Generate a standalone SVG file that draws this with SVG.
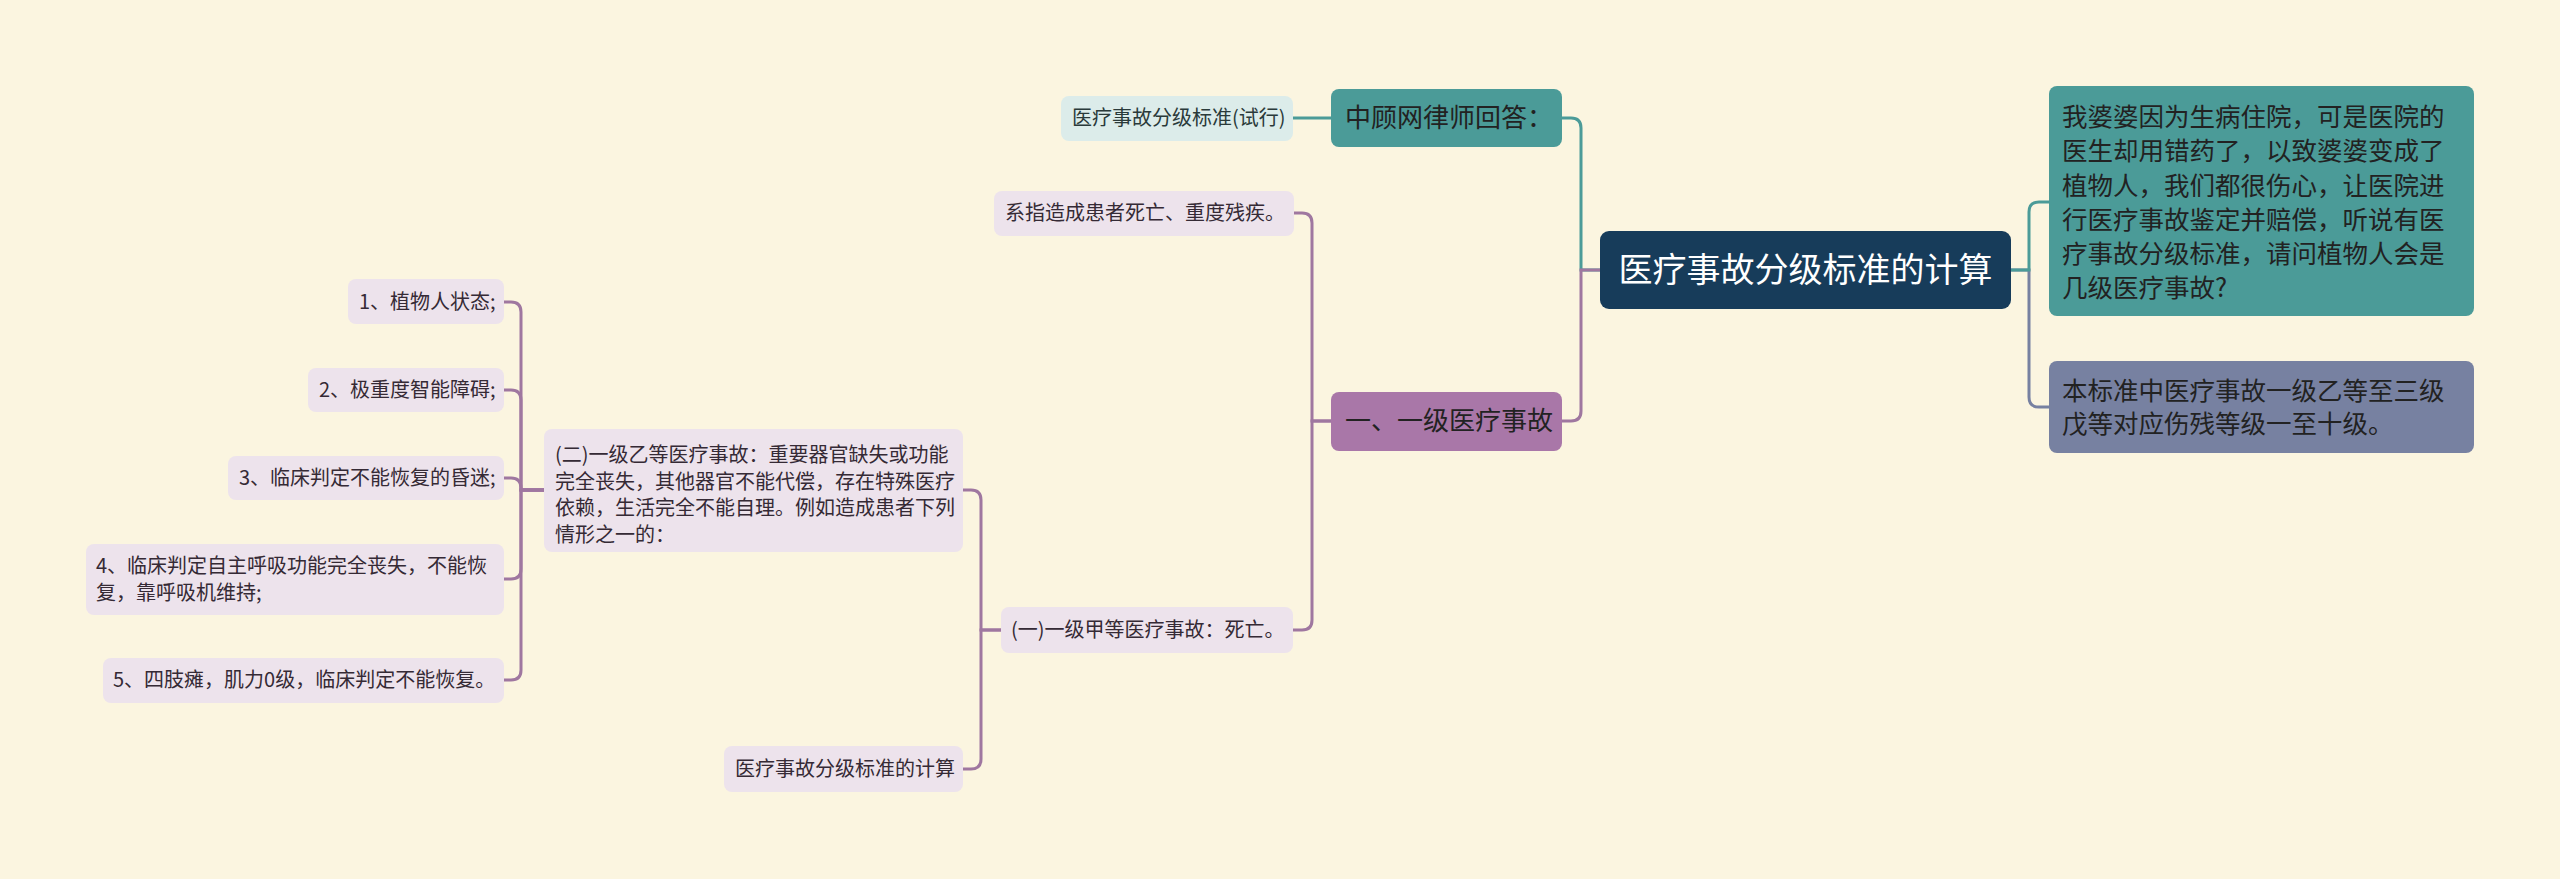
<svg xmlns="http://www.w3.org/2000/svg" width="2560" height="879" viewBox="0 0 2560 879">
<style>
.t{font-family:"Noto Sans CJK SC","Microsoft YaHei",sans-serif;}
.s{font-size:20px;fill:#352a35;}
.st{font-size:20px;fill:#2a3a3a;}
.m{font-size:26px;fill:#222;}
.q{font-size:25.5px;fill:#222;}
.c{font-size:34px;fill:#fff;}
.ln{fill:none;stroke-width:3;stroke-linecap:round;}
.lp{stroke:#9f77a0;}
.lt{stroke:#4b9b98;}
.lg{stroke:#7781a1;}
.lite{fill:#ede3ec;}
</style>
<rect width="2560" height="879" fill="#fbf5e0"/>
<g id="connectors">
<path class="ln lg" d="M2011,270 H2029 V397 Q2029,407 2039,407 H2049"/>
<path class="ln lt" d="M2011,270 H2029 V212 Q2029,202 2039,202 H2049"/>
<path class="ln lt" d="M1600,270 H1581 V128 Q1581,118 1571,118 H1562"/>
<path class="ln lp" d="M1600,270 H1581 V411 Q1581,421 1571,421 H1562"/>
<path class="ln lt" d="M1331,118 H1293"/>
<path class="ln lp" d="M1331,421 H1312 V223 Q1312,213 1302,213 H1294"/>
<path class="ln lp" d="M1331,421 H1312 V620 Q1312,630 1302,630 H1293"/>
<path class="ln lp" d="M1001,630 H981 V500 Q981,490 971,490 H963"/>
<path class="ln lp" d="M1001,630 H981 V759 Q981,769 971,769 H963"/>
<path class="ln lp" d="M544,490 H521 V312 Q521,302 511,302 H504"/>
<path class="ln lp" d="M544,490 H521 V400 Q521,390 511,390 H504"/>
<path class="ln lp" d="M544,490 H521 V488 Q521,478 511,478 H504"/>
<path class="ln lp" d="M544,490 H521 V569 Q521,579 511,579 H504"/>
<path class="ln lp" d="M544,490 H521 V670 Q521,680 511,680 H504"/>
</g>
<g id="center">
<rect x="1600" y="231" width="411" height="78" rx="9" fill="#173c5a"/>
<text class="t c" x="1805.5" y="282" text-anchor="middle">医疗事故分级标准的计算</text>
</g>
<g id="question">
<rect x="2049" y="86" width="425" height="230" rx="8" fill="#4b9b98"/>
<text class="t q" x="2062"><tspan x="2062" y="126">我婆婆因为生病住院，可是医院的</tspan><tspan x="2062" y="160">医生却用错药了，以致婆婆变成了</tspan><tspan x="2062" y="195">植物人，我们都很伤心，让医院进</tspan><tspan x="2062" y="229">行医疗事故鉴定并赔偿，听说有医</tspan><tspan x="2062" y="263">疗事故分级标准，请问植物人会是</tspan><tspan x="2062" y="297">几级医疗事故?</tspan></text>
</g>
<g id="note">
<rect x="2049" y="361" width="425" height="92" rx="8" fill="#7781a1"/>
<text class="t q"><tspan x="2062" y="400">本标准中医疗事故一级乙等至三级</tspan><tspan x="2062" y="433">戊等对应伤残等级一至十级。</tspan></text>
</g>
<g id="answer">
<rect x="1331" y="89" width="231" height="58" rx="8" fill="#4b9b98"/>
<text class="t m" x="1345" y="127">中顾网律师回答：</text>
</g>
<g id="standard">
<rect x="1061" y="96" width="232" height="45" rx="8" fill="#dcecea"/>
<text class="t st" x="1072" y="125">医疗事故分级标准(试行)</text>
</g>
<g id="level1">
<rect class="lite" x="1331" y="392" width="231" height="59" rx="8" style="fill:#a977a8"/>
<text class="t m" x="1345" y="430">一、一级医疗事故</text>
</g>
<g id="definition">
<rect class="lite" x="994" y="191" width="300" height="45" rx="8"/>
<text class="t s" x="1005" y="220">系指造成患者死亡、重度残疾。</text>
</g>
<g id="level1a">
<rect class="lite" x="1001" y="607" width="292" height="46" rx="8"/>
<text class="t s" x="1011" y="637">(一)一级甲等医疗事故：死亡。</text>
</g>
<g id="level1b">
<rect class="lite" x="544" y="429" width="419" height="123" rx="8"/>
<text class="t s"><tspan x="555" y="462">(二)一级乙等医疗事故：重要器官缺失或功能</tspan><tspan x="555" y="488.5">完全丧失，其他器官不能代偿，存在特殊医疗</tspan><tspan x="555" y="515">依赖，生活完全不能自理。例如造成患者下列</tspan><tspan x="555" y="541.5">情形之一的：</tspan></text>
</g>
<g id="calc">
<rect class="lite" x="724" y="746" width="239" height="46" rx="8"/>
<text class="t s" x="735" y="776">医疗事故分级标准的计算</text>
</g>
<g id="item1">
<rect class="lite" x="348" y="279" width="156" height="45" rx="8"/>
<text class="t s" x="359" y="309">1、植物人状态;</text>
</g>
<g id="item2">
<rect class="lite" x="308" y="368" width="196" height="44" rx="8"/>
<text class="t s" x="319" y="397">2、极重度智能障碍;</text>
</g>
<g id="item3">
<rect class="lite" x="228" y="456" width="276" height="44" rx="8"/>
<text class="t s" x="239" y="485">3、临床判定不能恢复的昏迷;</text>
</g>
<g id="item4">
<rect class="lite" x="86" y="544" width="418" height="71" rx="8"/>
<text class="t s"><tspan x="96" y="573">4、临床判定自主呼吸功能完全丧失，不能恢</tspan><tspan x="96" y="599.5">复，靠呼吸机维持;</tspan></text>
</g>
<g id="item5">
<rect class="lite" x="103" y="658" width="401" height="45" rx="8"/>
<text class="t s" x="113" y="687">5、四肢瘫，肌力0级，临床判定不能恢复。</text>
</g>
</svg>
